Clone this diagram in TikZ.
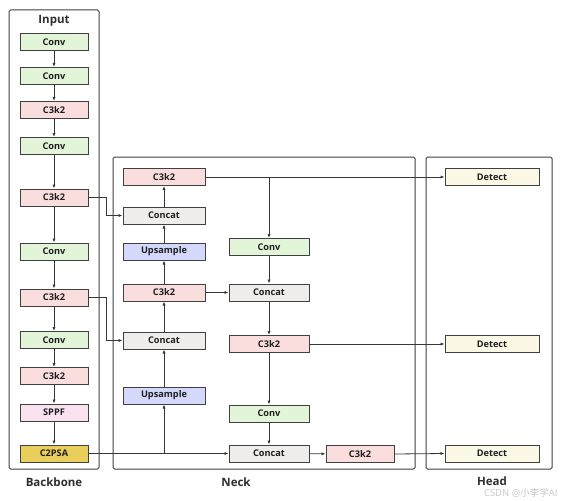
\documentclass[tikz,border=0pt]{standalone}
\usepackage{fontspec}
\setmainfont{Open Sans}
\newfontfamily\cjk{Noto Sans CJK SC}
\usetikzlibrary{arrows.meta}
\definecolor{bordc}{RGB}{64,64,64}
\definecolor{convc}{RGB}{226,245,216}
\definecolor{c3c}{RGB}{250,221,221}
\definecolor{upc}{RGB}{212,216,250}
\definecolor{catc}{RGB}{239,237,235}
\definecolor{sppfc}{RGB}{250,226,240}
\definecolor{psac}{RGB}{234,206,92}
\definecolor{detc}{RGB}{252,248,230}
\definecolor{linec}{RGB}{55,55,55}
\tikzset{
  blk/.style={draw=bordc, line width=1pt, inner sep=0pt, minimum height=17pt, font=\fontsize{9.2}{10}\selectfont\bfseries, text=black!88},
  convb/.style={blk, fill=convc},
  c3b/.style={blk, fill=c3c},
  upb/.style={blk, fill=upc},
  catb/.style={blk, fill=catc},
  sppfb/.style={blk, fill=sppfc},
  psab/.style={blk, fill=psac},
  detb/.style={blk, fill=detc, minimum width=94pt},
  grp/.style={draw=bordc, line width=1pt, rounded corners=1.5pt},
  ttl/.style={font=\fontsize{11.5}{13}\selectfont\bfseries, text=black!82},
  arr/.style={draw=linec, line width=0.8pt, -{Latex[length=4pt,width=3.2pt]}},
}
\begin{document}
\begin{tikzpicture}[x=1pt,y=-1pt]
\useasboundingbox (0,0) rectangle (561,500);
\fill[white] (0,0) rectangle (561,500);
% group frames
\draw[grp] (9,10) rectangle (99,469);
\draw[grp] (113,157) rectangle (415,469);
\draw[grp] (426,157) rectangle (552,469);
\node[ttl] (tin) at (54,21) {Input};
\node[ttl] (tbb) at (54,482) {Backbone};
\node[ttl] (tnk) at (236,482) {Neck};
\node[ttl] (thd) at (492,481) {Head};
% backbone
\begin{scope}[every node/.append style={minimum width=68pt}]
\node[convb] (b1) at (54,42.5) {Conv};
\node[convb] (b2) at (54,76) {Conv};
\node[c3b]   (b3) at (54,110) {C3k2};
\node[convb] (b4) at (54,146) {Conv};
\node[c3b]   (b5) at (54,197.5) {C3k2};
\node[convb] (b6) at (54,251.5) {Conv};
\node[c3b]   (b7) at (54,297.5) {C3k2};
\node[convb] (b8) at (54,340) {Conv};
\node[c3b]   (b9) at (54,376) {C3k2};
\node[sppfb] (b10) at (54,412.5) {SPPF};
\node[psab]  (b11) at (54,453.5) {C2PSA};
\end{scope}
\foreach \a/\b in {b1/b2,b2/b3,b3/b4,b4/b5,b5/b6,b6/b7,b7/b8,b8/b9,b9/b10,b10/b11}
  \draw[arr] (\a) -- (\b);
% neck column 1
\begin{scope}[every node/.append style={minimum width=82pt}]
\node[c3b]  (n1) at (164,177) {C3k2};
\node[catb] (n2) at (164,215.5) {Concat};
\node[upb]  (n3) at (164,251.5) {Upsample};
\node[c3b]  (n4) at (164,292.5) {C3k2};
\node[catb] (n5) at (164,340.5) {Concat};
\node[upb]  (n6) at (164,395.5) {Upsample};
\end{scope}
% neck column 2
\begin{scope}[every node/.append style={minimum width=80pt}]
\node[convb] (m1) at (269,247) {Conv};
\node[catb]  (m2) at (269,292.5) {Concat};
\node[c3b]   (m3) at (269,344) {C3k2};
\node[convb] (m4) at (269,413.5) {Conv};
\node[catb]  (m5) at (269,453.5) {Concat};
\end{scope}
\node[c3b, minimum width=68pt] (m6) at (360,454) {C3k2};
% head
\node[detb] (d1) at (492,177) {Detect};
\node[detb] (d2) at (492,344) {Detect};
\node[detb] (d3) at (492,453.5) {Detect};
% connectors
\coordinate (j1) at (106,197.5);
\coordinate (j2) at (106,297.5);
\draw[arr] (b5.east) -- (j1) |- (n2.west);
\draw[arr] (b7.east) -- (j2) |- (n5.west);
\draw[arr] (b11.east) -- (m5.west);
\coordinate (k1) at (n6.south |- b11.east);
\draw[arr] (k1) -- (n6.south);
\draw[arr] (n6) -- (n5);
\draw[arr] (n5) -- (n4);
\draw[arr] (n4) -- (n3);
\draw[arr] (n3) -- (n2);
\draw[arr] (n2) -- (n1);
\draw[arr] (n4) -- (m2);
\draw[arr] (n1.east) -- (d1.west);
\coordinate (k2) at (m1.north |- n1.east);
\draw[arr] (k2) -- (m1.north);
\draw[arr] (m1) -- (m2);
\draw[arr] (m2) -- (m3);
\draw[arr] (m3.east) -- (d2.west);
\draw[arr] (m3) -- (m4);
\draw[arr] (m4) -- (m5);
\draw[arr] (m5) -- (m6);
\draw[arr] (m6.east) -- (d3.west);
% watermark
\node[anchor=east, text=black!22, font=\fontsize{9.5}{11}\selectfont] (wm) at (561,493) {CSDN @{\cjk 小李学}AI};
\end{tikzpicture}
\end{document}
